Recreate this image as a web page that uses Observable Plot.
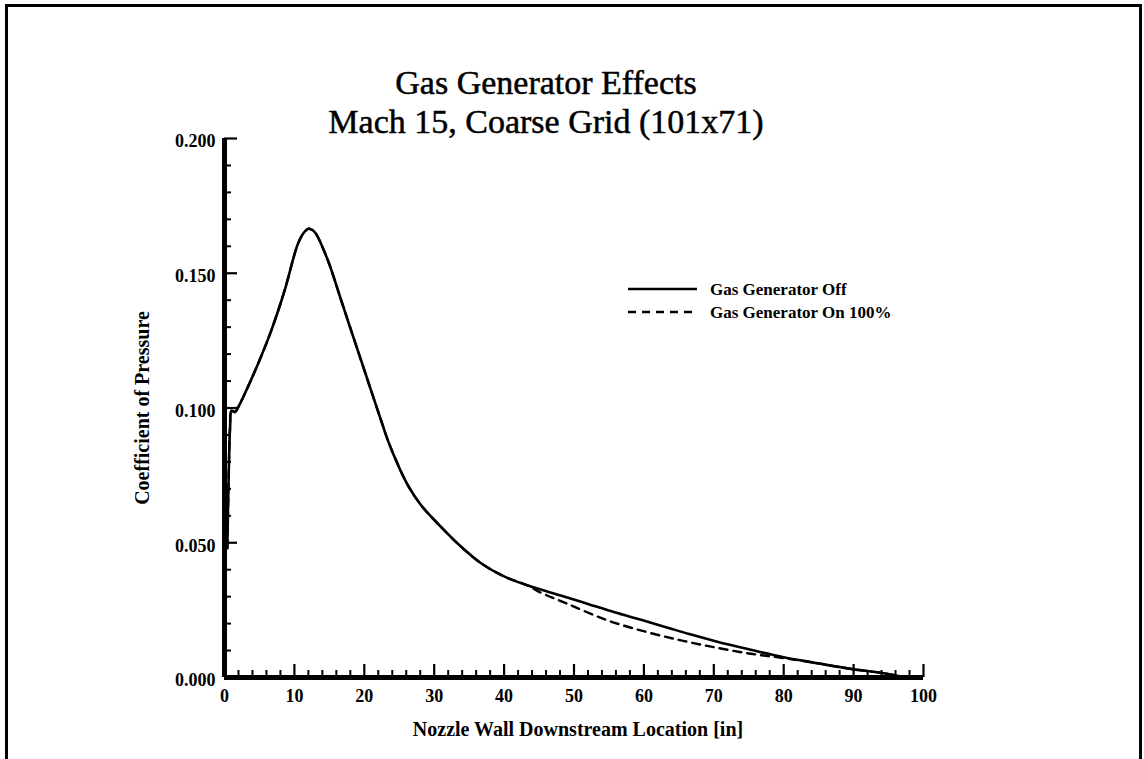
<!DOCTYPE html>
<html>
<head>
<meta charset="utf-8">
<script src="https://cdn.jsdelivr.net/npm/d3@7"></script>
<script src="https://cdn.jsdelivr.net/npm/@observablehq/plot@0.6"></script>
<style>
  body { margin: 0; background: #fff; }
  #wrap { position: relative; width: 1144px; height: 759px; overflow: hidden; background: #fff;
          font-family: "Liberation Serif", "Times New Roman", serif; }
  #frame { position: absolute; left: 5px; top: 4px; width: 1137px; height: 800px;
           border: 3px solid #000; border-bottom: none; box-sizing: border-box; }
  #chart { position: absolute; left: 0; top: 0; }
  #legend { position: absolute; left: 0; top: 0; }
</style>
</head>
<body>
<div id="wrap">
  <div id="frame"></div>
  <div id="chart"></div>
  <svg id="legend" width="1144" height="759"></svg>
</div>
<script>
// ---- Text ----
const titleText = "Gas Generator Effects";
const subtitleText = "Mach 15, Coarse Grid (101x71)";
const xLabel = "Nozzle Wall Downstream Location [in]";
const yLabel = "Coefficient of Pressure";
const seriesNames = ["Gas Generator Off", "Gas Generator On 100%"];

// ---- Ticks ----
const xMajorTicks = [0, 10, 20, 30, 40, 50, 60, 70, 80, 90, 100];
const xMinorTicks = [2, 4, 6, 8, 12, 14, 16, 18, 22, 24, 26, 28, 32, 34, 36, 38, 42, 44, 46, 48, 52, 54, 56, 58, 62, 64, 66, 68, 72, 74, 76, 78, 82, 84, 86, 88, 92, 94, 96, 98];
const yMajorTicks = [0, 0.05, 0.10, 0.15, 0.20];
const yMinorTicks = [0.01, 0.02, 0.03, 0.04, 0.06, 0.07, 0.08, 0.09, 0.11, 0.12, 0.13, 0.14, 0.16, 0.17, 0.18, 0.19];

// ---- Series: Gas Generator Off (solid) ----
const offX = [0.4, 0.6, 0.8, 1.0, 1.5, 2.0, 2.9, 4.8, 6.7, 8.6, 10.5, 11.4, 12.0, 12.6, 13.1, 14.8, 16.7, 18.6, 20.5, 22.4, 23.4, 24.8, 26.2, 28.1, 31.0, 33.9, 36.7, 40.0, 43.4, 48.1, 52.0, 55.8, 59.6, 63.4, 66.5, 70.5, 75.3, 80.0, 84.8, 89.6, 94.3, 97.0];
const offY = [0.048, 0.075, 0.093, 0.099, 0.0985, 0.1005, 0.1053, 0.1164, 0.1288, 0.1436, 0.1609, 0.1652, 0.1665, 0.1660, 0.1646, 0.1547, 0.1399, 0.1250, 0.1102, 0.0954, 0.0878, 0.0790, 0.0715, 0.0640, 0.0558, 0.0484, 0.0424, 0.0375, 0.0341, 0.0304, 0.0273, 0.0242, 0.0214, 0.0185, 0.0161, 0.0133, 0.0103, 0.0075, 0.0053, 0.0032, 0.0016, 0.0003];

// ---- Series: Gas Generator On 100% (dashed) ----
const onX = [0.4, 0.6, 0.8, 1.0, 1.5, 2.0, 2.9, 4.8, 6.7, 8.6, 10.5, 11.4, 12.0, 12.6, 13.1, 14.8, 16.7, 18.6, 20.5, 22.4, 23.4, 24.8, 26.2, 28.1, 31.0, 33.9, 36.7, 40.0, 43.4, 45.0, 49.1, 54.8, 60.5, 65.8, 70.5, 75.3, 80.0, 84.8, 89.6, 94.3, 97.0];
const onY = [0.048, 0.075, 0.093, 0.099, 0.0985, 0.1005, 0.1053, 0.1164, 0.1288, 0.1436, 0.1609, 0.1652, 0.1665, 0.1660, 0.1646, 0.1547, 0.1399, 0.1250, 0.1102, 0.0954, 0.0878, 0.0790, 0.0715, 0.0640, 0.0558, 0.0484, 0.0424, 0.0375, 0.0341, 0.0318, 0.0273, 0.0212, 0.0168, 0.0135, 0.0110, 0.0088, 0.0072, 0.0053, 0.0032, 0.0016, 0.0003];

const offData = offX.map((x, i) => ({x, y: offY[i]}));
const onData = onX.map((x, i) => ({x, y: onY[i]}));

const fontFamily = "'Liberation Serif', 'Times New Roman', serif";

const chart = Plot.plot({
  width: 1144,
  height: 759,
  marginLeft: 224,
  marginRight: 221,
  marginTop: 138,
  marginBottom: 82,
  x: {domain: [0, 100]},
  y: {domain: [0, 0.2]},
  style: {fontFamily, fontWeight: "bold", fontSize: "18px", color: "#000", background: "transparent", overflow: "visible"},
  marks: [
    Plot.line(offData, {x: "x", y: "y", stroke: "#000", strokeWidth: 2.6, curve: "catmull-rom"}),
    Plot.line(onData, {x: "x", y: "y", stroke: "#000", strokeWidth: 2.4, strokeDasharray: "8,6", curve: "catmull-rom"}),
    Plot.ruleX(xMinorTicks, {x: d => d, y1: 0, y2: 0, insetTop: -7, stroke: "#000", strokeWidth: 2}),
    Plot.ruleX(xMajorTicks, {x: d => d, y1: 0, y2: 0, insetTop: -13, stroke: "#000", strokeWidth: 2.2}),
    Plot.ruleY(yMinorTicks, {y: d => d, x1: 0, x2: 0, insetRight: -7, stroke: "#000", strokeWidth: 2}),
    Plot.ruleY(yMajorTicks, {y: d => d, x1: 0, x2: 0, insetRight: -13, stroke: "#000", strokeWidth: 2.2}),
    Plot.ruleY([0], {x1: 0, x2: 100, stroke: "#000", strokeWidth: 5}),
    Plot.ruleX([0], {y1: 0, y2: 0.2, stroke: "#000", strokeWidth: 5}),
    Plot.axisX({ticks: xMajorTicks, tickSize: 0, tickPadding: 12, tickFormat: d => String(d), label: null, fontSize: 18, fontWeight: "bold"}),
    Plot.axisY({ticks: yMajorTicks, tickSize: 0, tickPadding: 9, tickFormat: d3.format(".3f"), label: null, dy: 3, fontSize: 18, fontWeight: "bold"}),
    Plot.text([xLabel], {text: d => d, frameAnchor: "bottom", textAnchor: "middle", dx: 4, dy: 58, lineAnchor: "bottom", fontSize: 20, fontWeight: "bold", fill: "#000"}),
    Plot.text([yLabel], {text: d => d, frameAnchor: "left", textAnchor: "middle", dx: -82, rotate: -90, fontSize: 20, fontWeight: "bold", fill: "#000"}),
    Plot.text([titleText + "\n" + subtitleText], {text: d => d, frameAnchor: "top", textAnchor: "middle", dx: -28, dy: -6, lineAnchor: "bottom", lineHeight: 1.12, fontSize: 34, fontWeight: "normal", fill: "#000", stroke: "#000", strokeWidth: 0.5})
  ]
});
document.getElementById("chart").appendChild(chart);

// ---- Legend ----
const legend = d3.select("#legend");
const legendItems = [
  {name: seriesNames[0], dash: null, ly: 289, width: 2.6},
  {name: seriesNames[1], dash: "8,6", ly: 312, width: 2.4}
];
legendItems.forEach(it => {
  legend.append("line")
    .attr("x1", 628).attr("x2", 697).attr("y1", it.ly).attr("y2", it.ly)
    .attr("stroke", "#000").attr("stroke-width", it.width)
    .attr("stroke-dasharray", it.dash);
  legend.append("text")
    .attr("x", 710).attr("y", it.ly + 6)
    .attr("font-family", fontFamily).attr("font-weight", "bold").attr("font-size", 17)
    .attr("fill", "#000")
    .text(it.name);
});
</script>
</body>
</html>
